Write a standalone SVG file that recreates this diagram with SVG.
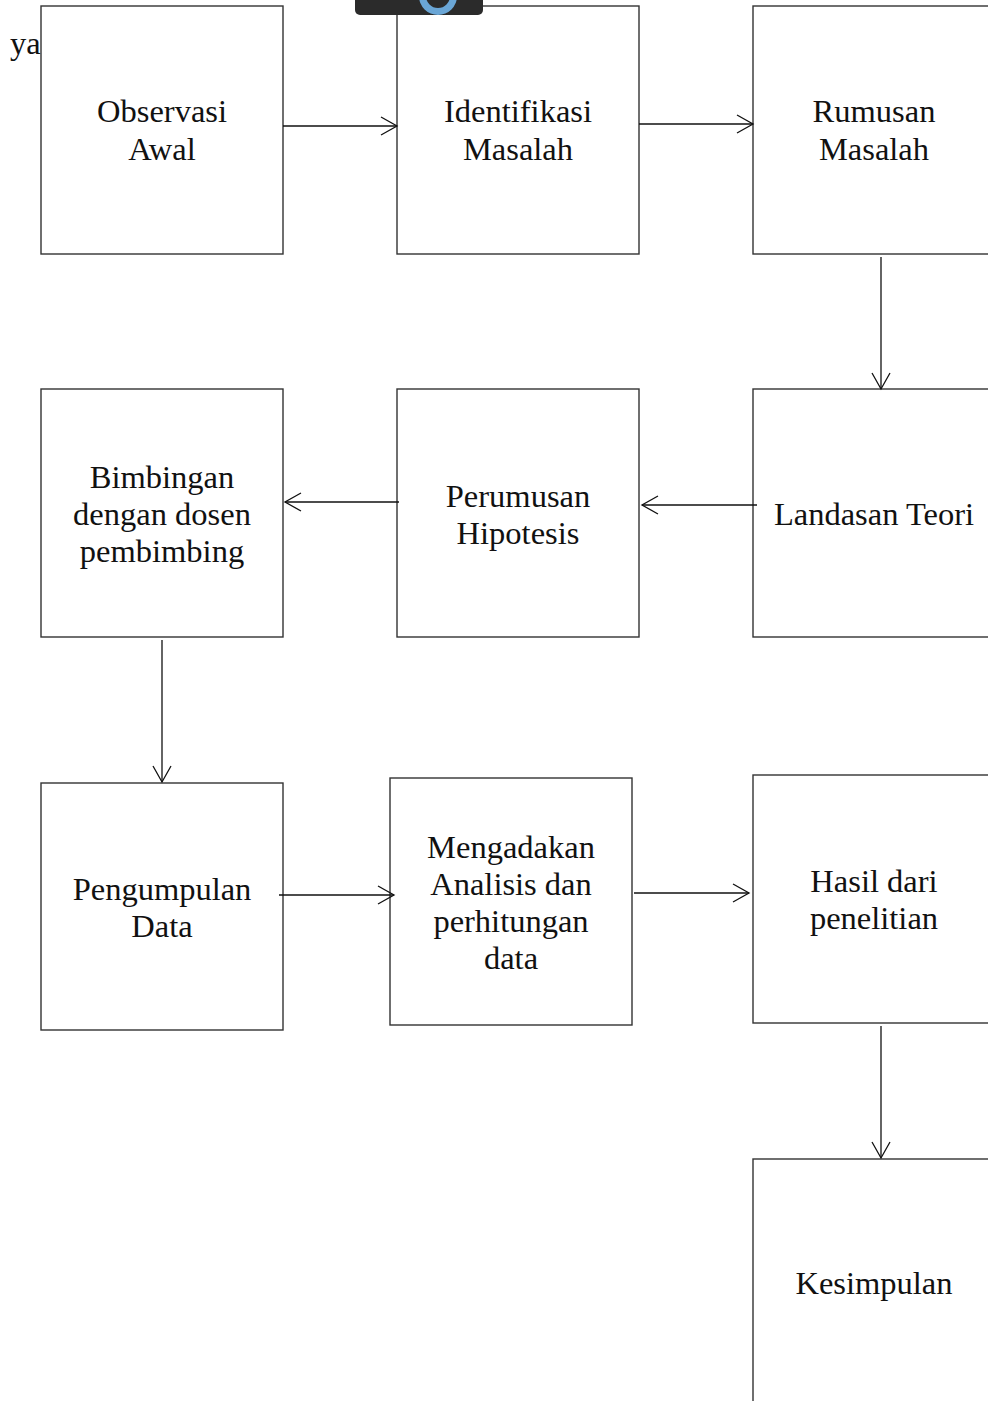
<svg xmlns="http://www.w3.org/2000/svg" width="988" height="1401" viewBox="0 0 988 1401">
<style>
.box{fill:#fff;stroke:#333;stroke-width:1.4}
.lbl{font-family:"Liberation Serif","Times New Roman",serif;font-size:32.5px;fill:#111;text-anchor:middle}
.edge{stroke:#111;stroke-width:1.3;fill:none}
.head{stroke:#111;stroke-width:1.3;fill:none}
</style>
<rect width="988" height="1401" fill="#fff"/>
<text x="10" y="54" style="font-family:'Liberation Serif',serif;font-size:32.5px;fill:#111">ya</text>
<g id="observasi"><rect class="box" x="41" y="6" width="242" height="248"/><text class="lbl" x="162" y="122">Observasi</text><text class="lbl" x="162" y="160">Awal</text></g>
<g id="identifikasi"><rect class="box" x="397" y="6" width="242" height="248"/><text class="lbl" x="518" y="122">Identifikasi</text><text class="lbl" x="518" y="160">Masalah</text></g>
<g id="rumusan"><rect class="box" x="753" y="6" width="250" height="248"/><text class="lbl" x="874" y="122">Rumusan</text><text class="lbl" x="874" y="160">Masalah</text></g>
<g id="landasan"><rect class="box" x="753" y="389" width="250" height="248"/><text class="lbl" x="874" y="525">Landasan Teori</text></g>
<g id="perumusan"><rect class="box" x="397" y="389" width="242" height="248"/><text class="lbl" x="518" y="507">Perumusan</text><text class="lbl" x="518" y="544">Hipotesis</text></g>
<g id="bimbingan"><rect class="box" x="41" y="389" width="242" height="248"/><text class="lbl" x="162" y="488">Bimbingan</text><text class="lbl" x="162" y="525">dengan dosen</text><text class="lbl" x="162" y="562">pembimbing</text></g>
<g id="pengumpulan"><rect class="box" x="41" y="783" width="242" height="247"/><text class="lbl" x="162" y="900">Pengumpulan</text><text class="lbl" x="162" y="937">Data</text></g>
<g id="mengadakan"><rect class="box" x="390" y="778" width="242" height="247"/><text class="lbl" x="511" y="858">Mengadakan</text><text class="lbl" x="511" y="895">Analisis dan</text><text class="lbl" x="511" y="932">perhitungan</text><text class="lbl" x="511" y="969">data</text></g>
<g id="hasil"><rect class="box" x="753" y="775" width="250" height="248"/><text class="lbl" x="874" y="892">Hasil dari</text><text class="lbl" x="874" y="929">penelitian</text></g>
<g id="kesimpulan"><rect class="box" x="753" y="1159" width="250" height="260"/><text class="lbl" x="874" y="1294">Kesimpulan</text></g>
<g id="connectors">
<line class="edge" x1="283" y1="126" x2="397" y2="126"/><polyline class="head" points="381,117 397,126 381,135"/>
<line class="edge" x1="639" y1="124" x2="753" y2="124"/><polyline class="head" points="737,115 753,124 737,133"/>
<line class="edge" x1="881" y1="257" x2="881" y2="389"/><polyline class="head" points="872,373 881,389 890,373"/>
<line class="edge" x1="757" y1="505" x2="642" y2="505"/><polyline class="head" points="658,496 642,505 658,514"/>
<line class="edge" x1="399" y1="502" x2="285" y2="502"/><polyline class="head" points="301,493 285,502 301,511"/>
<line class="edge" x1="162" y1="640" x2="162" y2="782"/><polyline class="head" points="153,766 162,782 171,766"/>
<line class="edge" x1="279" y1="895" x2="394" y2="895"/><polyline class="head" points="378,886 394,895 378,904"/>
<line class="edge" x1="634" y1="893" x2="749" y2="893"/><polyline class="head" points="733,884 749,893 733,902"/>
<line class="edge" x1="881" y1="1026" x2="881" y2="1158"/><polyline class="head" points="872,1142 881,1158 890,1142"/>
</g>
<g id="overlay">
<rect x="355" y="-20" width="128" height="35" rx="5" fill="#2b2b2b"/>
<path d="M419,-4 A19,19 0 0 0 457,-4 L450,-4 A12,12 0 0 1 426,-4 Z" fill="#6aa6d6"/>
</g>
</svg>
